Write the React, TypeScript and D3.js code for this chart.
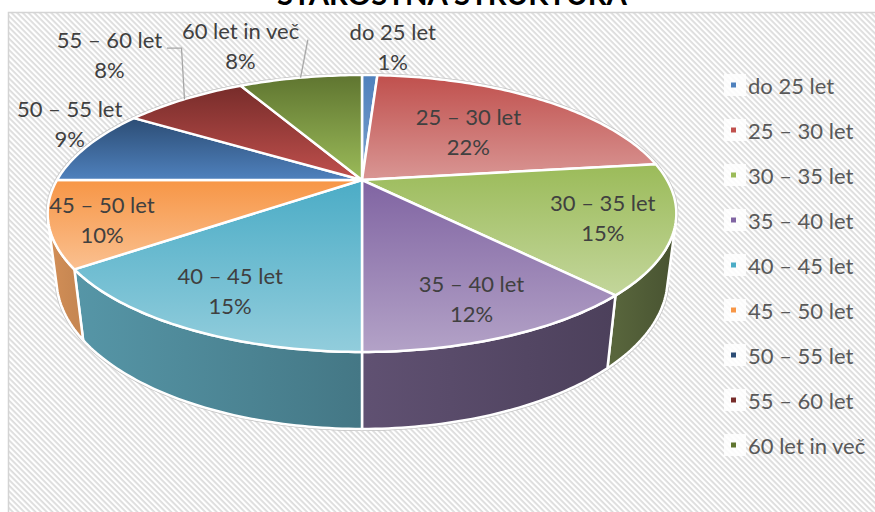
import React from "react";
import * as d3 from "d3";

// chart data
const categories = [
  "do 25 let",
  "25 – 30 let",
  "30 – 35 let",
  "35 – 40 let",
  "40 – 45 let",
  "45 – 50 let",
  "50 – 55 let",
  "55 – 60 let",
  "60 let in več",
];
const shares = [1, 22, 15, 12, 15, 10, 9, 8, 8];
const title = "STAROSTNA STRUKTURA";

// Excel-like palette: top face gradient (far -> near)
const topDark = ["#4f81bd", "#c0504d", "#9bbb59", "#8064a2", "#4bacc6", "#f79646", "#2c4d75", "#772c2a", "#5f7530"];
const topLight = ["#7ba0cd", "#d99694", "#c3d69b", "#b3a2c7", "#92cddc", "#fac090", "#4f81bd", "#c0504d", "#9bbb59"];

// label placement: radial fraction + pixel nudge, leader line for outside labels
const labelLayout = [
  { t: 1, dx: 23, dy: -29, leader: false },
  { t: 0.56, dx: 0, dy: 0, leader: false },
  { t: 0.785, dx: 0, dy: 0, leader: false },
  { t: 0.8, dx: 0, dy: 0, leader: false },
  { t: 0.79, dx: 0, dy: 0, leader: false },
  { t: 0.84, dx: 0, dy: 3, leader: false },
  { t: 1, dx: -18, dy: -22, leader: false },
  { t: 1, dx: -75, dy: -45, leader: true },
  { t: 1, dx: -60, dy: -32, leader: true },
];

// 3D projection of the pie
const cx = 362;
const cy = 180;
const R = 305;
const thick = 72;
const sinA = 0.4275;
const cosA = Math.sqrt(1 - sinA * sinA);
const D = 1140;

function project(phi: number, t: number, h: number): [number, number] {
  const X = R * t * Math.sin(phi);
  const Z = -R * t * Math.cos(phi);
  const depth = Z * cosA - h * sinA;
  const s = D / (D - depth);
  return [cx + X * s, cy + (Z * sinA + h * cosA) * s];
}

// outer wall faces the camera only in this range
const visFrom = Math.acos(-R / (D * cosA));
const visTo = 2 * Math.PI - visFrom;

function arcPoints(a: number, b: number, h: number): [number, number][] {
  const n = Math.max(2, Math.ceil(Math.abs(b - a) / (Math.PI / 180)));
  return d3.range(n + 1).map((i) => project(a + ((b - a) * i) / n, 1, h));
}

function wallShade(base: string, phi: number) {
  const g = d3.rgb(d3.interpolateRgb(base, "#808080")(0.3));
  const deg = (phi * 180) / Math.PI;
  const f = Math.max(0.45, Math.min(1, 0.5 + (0.5 * (deg - 110)) / 140));
  return d3.rgb(g.r * f, g.g * f, g.b * f).formatHex();
}

const line = d3.line<[number, number]>();

export default function App() {
  const arcs = d3.pie<number>().sort(null).value((d) => d)(shares);
  const total = d3.sum(shares);
  const fontFamily = "Lato, 'Open Sans', sans-serif";

  const walls = arcs
    .map((a, i) => {
      const s = Math.max(a.startAngle, visFrom);
      const e = Math.min(a.endAngle, visTo);
      if (s >= e) return null;
      const pts = [...arcPoints(s, e, 0), ...arcPoints(e, s, thick)];
      return {
        i,
        d: line(pts) + "Z",
        x1: project(e, 1, 0)[0],
        x2: project(s, 1, 0)[0],
        c1: wallShade(topDark[i], e),
        c2: wallShade(topDark[i], s),
      };
    })
    .filter(Boolean) as { i: number; d: string; x1: number; x2: number; c1: string; c2: string }[];

  const tops = arcs.map((a) => line([project(0, 0, 0), ...arcPoints(a.startAngle, a.endAngle, 0)]) + "Z");

  const outline =
    line([...arcPoints(visTo, visFrom + 2 * Math.PI, 0), ...arcPoints(visFrom, visTo, thick).reverse()]) + "Z";

  const labels = arcs.map((a, i) => {
    const mid = (a.startAngle + a.endAngle) / 2;
    const L = labelLayout[i];
    const edge = project(mid, L.t, 0);
    const x = edge[0] + L.dx;
    const y = edge[1] + L.dy;
    const pct = Math.round((shares[i] / total) * 100) + "%";
    let leader: string | null = null;
    if (L.leader) {
      const hx = x + categories[i].length * 22 * 0.225 + 3;
      const ly = y - 6;
      leader = line([[hx, ly], [Math.max(hx, edge[0] - 3), ly], edge]);
    }
    return { x, y, pct, leader, name: categories[i] };
  });

  return (
    <svg width={875} height={512} style={{ position: "absolute", left: 0, top: 0, background: "#fff" }}>
      <defs>
        <pattern id="hatch" width={4} height={4} patternUnits="userSpaceOnUse" patternTransform="rotate(45)">
          <rect width={4} height={4} fill="#ffffff" />
          <rect width={4} height={1.8} fill="#dcdcdc" />
        </pattern>
        {tops.map((_, i) => (
          <linearGradient key={i} id={`top${i}`} x1={0} y1={0} x2={0} y2={1}>
            <stop offset="0%" stopColor={topDark[i]} />
            <stop offset="100%" stopColor={topLight[i]} />
          </linearGradient>
        ))}
        {walls.map((w) => (
          <linearGradient key={w.i} id={`wall${w.i}`} gradientUnits="userSpaceOnUse" x1={w.x1} y1={0} x2={w.x2} y2={0}>
            <stop offset="0%" stopColor={w.c1} />
            <stop offset="100%" stopColor={w.c2} />
          </linearGradient>
        ))}
      </defs>

      {/* chart area */}
      <rect x={8.5} y={12.5} width={880} height={520} fill="url(#hatch)" stroke="#d4d4d4" strokeWidth={1.5} />

      <text
        x={452}
        y={4.5}
        textAnchor="middle"
        fontFamily={fontFamily}
        fontWeight="bold"
        fontSize={28}
        textLength={350}
        lengthAdjust="spacingAndGlyphs"
        fill="#000"
      >
        {title}
      </text>

      {/* pie */}
      <path d={outline} fill="#fff" stroke="#c4c4c4" strokeWidth={4} />
      {walls.map((w) => (
        <path key={w.i} d={w.d} fill={`url(#wall${w.i})`} stroke="#fff" strokeWidth={2.5} strokeLinejoin="round" />
      ))}
      {tops.map((d, i) => (
        <path key={i} d={d} fill={`url(#top${i})`} stroke="#fff" strokeWidth={2.5} strokeLinejoin="round" />
      ))}

      {/* data labels */}
      {labels.map((l, i) => (
        <g key={i} fontFamily={fontFamily} fontSize={22} fill="#404040" textAnchor="middle">
          {l.leader && <path d={l.leader} fill="none" stroke="#a6a6a6" strokeWidth={1.3} />}
          <text x={l.x} y={l.y - 15} dominantBaseline="central">
            {l.name}
          </text>
          <text x={l.x} y={l.y + 15} dominantBaseline="central">
            {l.pct}
          </text>
        </g>
      ))}

      {/* legend */}
      {categories.map((c, i) => {
        const y = 85 + i * 45;
        return (
          <g key={c}>
            <rect x={724} y={y - 11} width={22} height={22} fill="#fff" opacity={0.85} />
            <rect x={731} y={y - 2.5} width={5} height={5} fill={topDark[i]} />
            <text x={748} y={y} dominantBaseline="central" fontFamily={fontFamily} fontSize={22} fill="#595959">
              {c}
            </text>
          </g>
        );
      })}
    </svg>
  );
}
